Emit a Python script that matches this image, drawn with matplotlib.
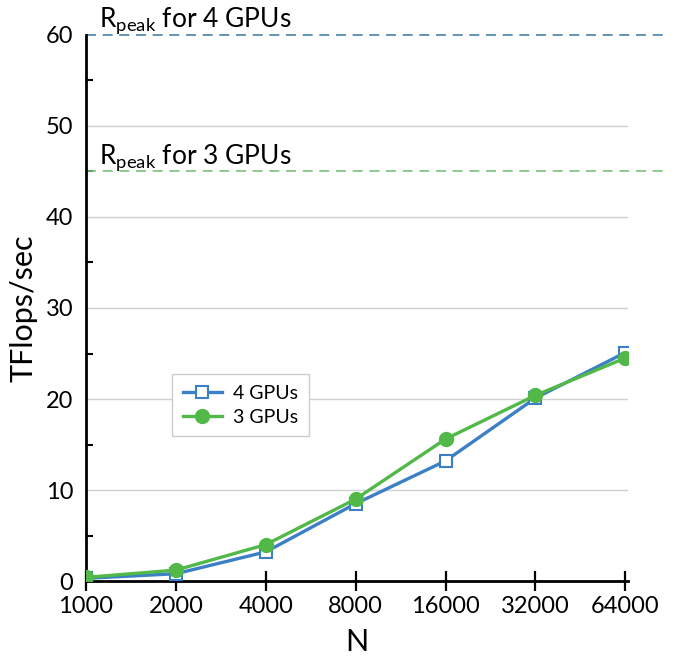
import matplotlib
matplotlib.use('Agg')
import matplotlib.pyplot as plt
import numpy as np

plt.rcParams['font.family'] = ['Lato', 'DejaVu Sans']
plt.rcParams['mathtext.fontset'] = 'custom'
plt.rcParams['mathtext.rm'] = 'Lato'

# data
n_labels = ['1000', '2000', '4000', '8000', '16000', '32000', '64000']
tflops_4gpu = [0.3, 0.8, 3.2, 8.5, 13.2, 20.1, 25.1]
tflops_3gpu = [0.4, 1.2, 4.0, 9.0, 15.6, 20.4, 24.5]
rpeak_4gpu = 60
rpeak_3gpu = 45

blue = '#3b80c6'
green = '#52b848'

fig = plt.figure(figsize=(6.78, 6.70), dpi=100)
ax = fig.add_axes([0.1268, 0.1328, 0.7994, 0.815])

x = np.arange(len(n_labels))

# light grid
for yv in [10, 20, 30, 40, 50]:
    ax.axhline(yv, color='#d0d0d0', lw=1.0, zorder=0)

ax.plot(x, tflops_4gpu, color=blue, lw=2.4, marker='s', ms=9,
        mfc='white', mec=blue, mew=1.5, label='4 GPUs', zorder=3)
ax.plot(x, tflops_3gpu, color=green, lw=2.4, marker='o', ms=10,
        mfc=green, mec=green, label='3 GPUs', zorder=4)

# peak lines run past the plot area
ax.plot([0, 1.075], [rpeak_4gpu, rpeak_4gpu], transform=ax.get_yaxis_transform(),
        color='#4a82a8', lw=1.2, ls=(0, (6, 4)), clip_on=False)
ax.plot([0, 1.075], [rpeak_3gpu, rpeak_3gpu], transform=ax.get_yaxis_transform(),
        color='#7cc278', lw=1.2, ls=(0, (6, 4)), clip_on=False)
ax.text(0.15, rpeak_4gpu + 0.9, r'R$_{\rm peak}$ for 4 GPUs', fontsize=19, va='baseline')
ax.text(0.15, rpeak_3gpu + 0.9, r'R$_{\rm peak}$ for 3 GPUs', fontsize=19, va='baseline')

ax.set_xlim(0, 6.03)
ax.set_ylim(0, 60)
ax.set_xticks(x)
ax.set_xticklabels(n_labels)
ax.set_yticks(np.arange(0, 61, 10))
ax.set_yticks(np.arange(5, 60, 10), minor=True)
ax.tick_params(axis='x', direction='inout', length=14, width=1.6, labelsize=17, pad=4)
ax.tick_params(axis='y', which='major', length=0, labelsize=17, pad=9)
ax.tick_params(axis='y', which='minor', direction='in', length=5, width=1.5)

for side in ['top', 'right']:
    ax.spines[side].set_visible(False)
ax.spines['left'].set_linewidth(2.0)
ax.spines['bottom'].set_linewidth(2.0)

ax.set_xlabel('N', fontsize=22, labelpad=8)
ax.set_ylabel('TFlops/sec', fontsize=22, labelpad=6)

leg = ax.legend(loc='upper left', bbox_to_anchor=(0.159, 0.379), fontsize=14,
                fancybox=False, edgecolor='#cccccc', framealpha=1, handlelength=2.0,
                handletextpad=0.6, borderpad=0.55, labelspacing=0.35, borderaxespad=0)
leg.get_frame().set_linewidth(1.0)

fig.savefig('out.png', dpi=100)
